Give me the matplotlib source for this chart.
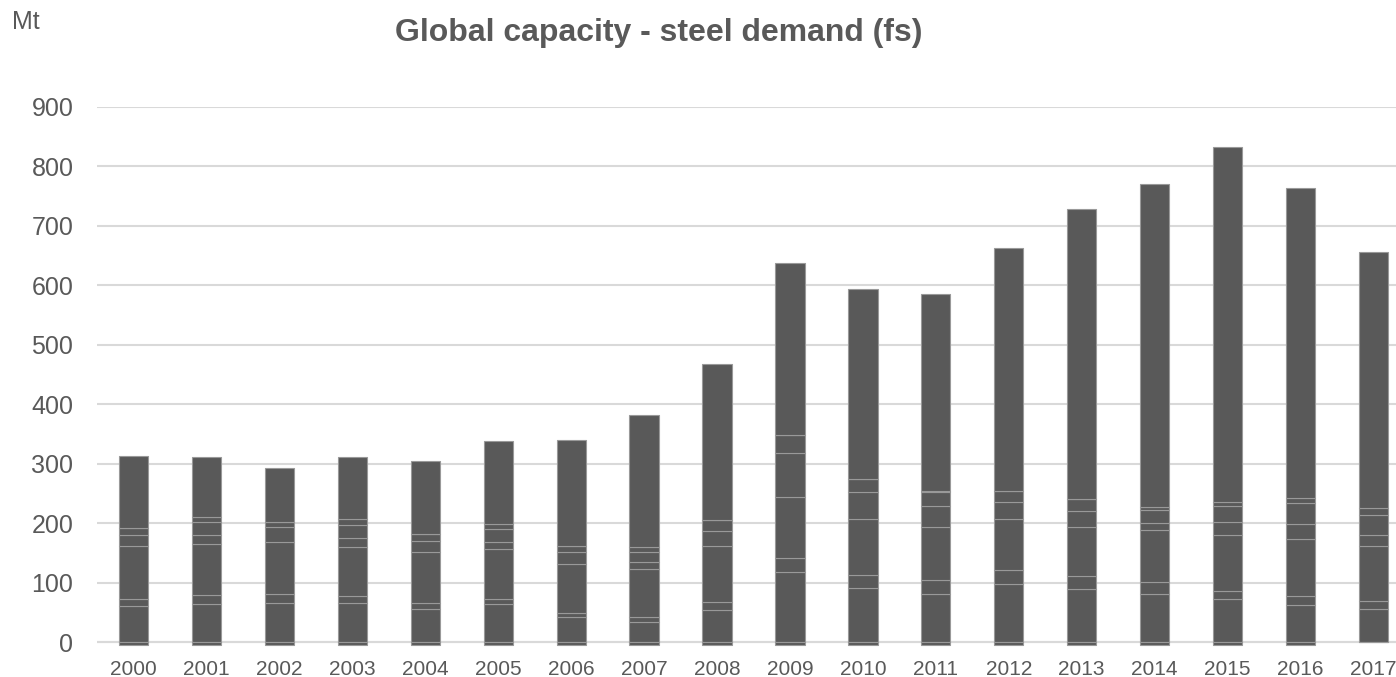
import numpy as np
import matplotlib
matplotlib.use("Agg")
import matplotlib.pyplot as plt

plt.rcParams['font.family'] = ['Liberation Sans', 'DejaVu Sans']

years = [str(y) for y in range(2000, 2018)]

# stacked layers of the capacity surplus, bottom to top (Mt)
layer1 = [61, 64, 66, 66, 56, 64, 42, 34, 54, 118, 91, 81, 98, 89, 81, 72, 62, 56]
layer2 = [11, 16, 15, 11, 10, 8, 7, 9, 13, 23, 22, 23, 23, 22, 20, 15, 15, 13]
layer3 = [89, 86, 88, 83, 85, 84, 82, 80, 94, 104, 94, 89, 86, 83, 87, 93, 96, 92]
layer4 = [20, 14, 24, 15, 20, 12, 20, 12, 26, 73, 45, 36, 28, 26, 12, 23, 25, 19]
layer5 = [11, 22, 9, 22, 11, 22, 10, 16, 18, 30, 22, 23, 20, 21, 22, 26, 36, 34]
layer6 = [0, 8, 0, 11, 0, 9, 0, 9, 0, 0, 0, 3, 0, 0, 5, 6, 8, 11]
layer7 = [121, 101, 91, 103, 122, 139, 179, 222, 263, 290, 319, 330, 408, 487, 543, 597, 521, 431]
negative = [-4, -4, -4, -4, -4, -4, -4, -4, -4, -4, -4, -4, -4, -4, -4, -4, -4, 0]

layers = [layer1, layer2, layer3, layer4, layer5, layer6, layer7]

text_col = '#595959'
bar_col = '#595959'
edge_col = '#999999'

fig = plt.figure(figsize=(13.96, 6.77), dpi=100)
ax = fig.add_axes([97 / 1396, 0.0442, 1313 / 1396, 0.7982])

x = np.arange(len(years))
w = 0.4
bottom = np.zeros(len(years))
for vals in layers:
    ax.bar(x, vals, w, bottom=bottom, color=bar_col, edgecolor=edge_col,
           linewidth=0.8, zorder=3)
    bottom += np.array(vals)
ax.bar(x, negative, w, color=bar_col, edgecolor=edge_col, linewidth=0.8, zorder=3)

ax.set_xlim(-0.5, len(years) - 0.5)
ax.set_ylim(-8, 900)
ax.set_yticks(range(0, 1000, 100))
ax.set_xticks(x)
ax.set_xticklabels(years)
ax.yaxis.grid(True, color='#d9d9d9', linewidth=1.5, zorder=0)
ax.axhline(0, color='#d9d9d9', linewidth=1.5, zorder=2)
for s in ax.spines.values():
    s.set_visible(False)
ax.tick_params(axis='y', length=0, pad=17, labelsize=18, labelcolor=text_col)
ax.tick_params(axis='x', length=0, pad=9, labelsize=15, labelcolor=text_col)

fig.text(0.472, 0.951, 'Global capacity - steel demand (fs)', ha='center',
         va='center', fontsize=23, fontweight='bold', color=text_col)
fig.text(12 / 1396, 0.967, 'Mt', ha='left', va='center', fontsize=18,
         color=text_col)

fig.savefig('out.png', dpi=100)
